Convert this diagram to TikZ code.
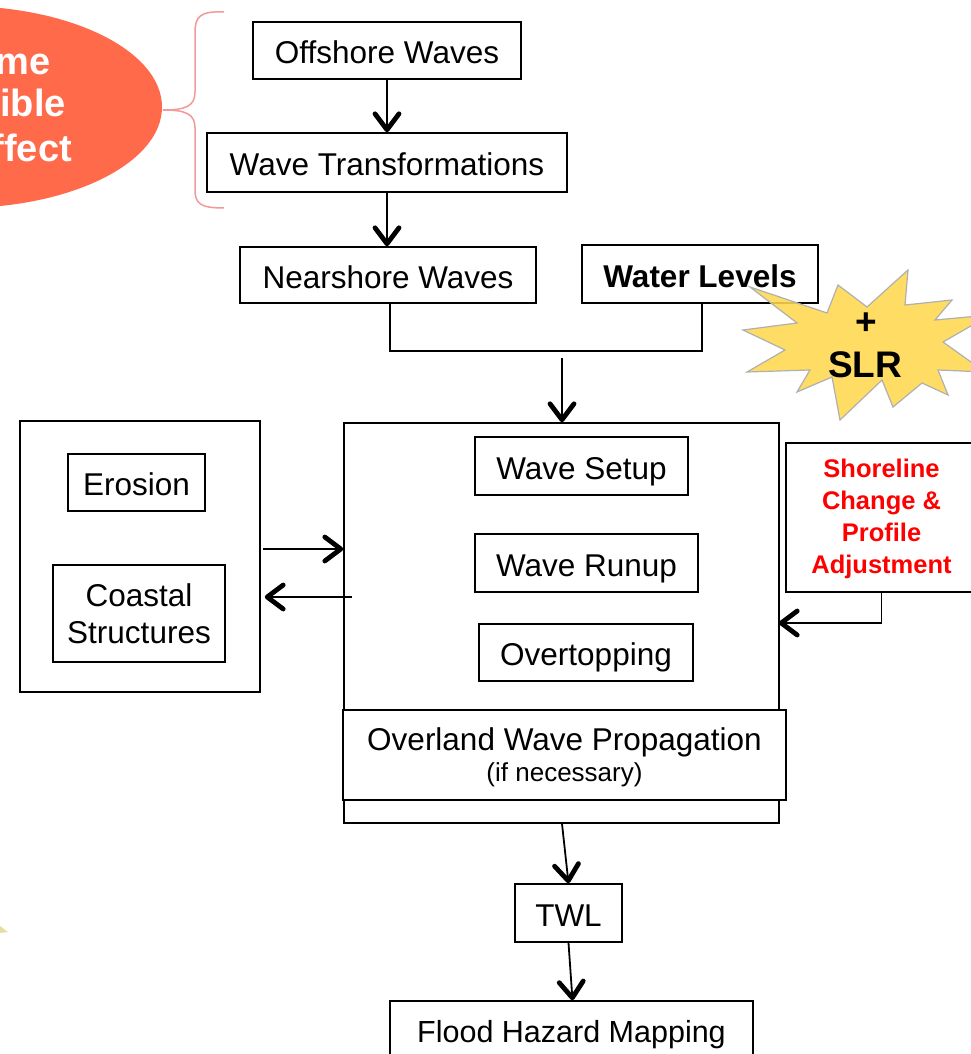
\documentclass[tikz,border=0pt]{standalone}
\usepackage{fontspec}
\setmainfont{Liberation Sans}
\usetikzlibrary{arrows.meta}
\definecolor{ellred}{HTML}{FF6A4B}
\definecolor{bracepink}{HTML}{F29A9A}
\definecolor{staryellow}{HTML}{FFD84F}
\definecolor{stargray}{HTML}{B0B0B0}
\definecolor{faint}{HTML}{E6DDA0}
\begin{document}
\begin{tikzpicture}[x=1pt,y=-1pt,
  box/.style={draw=black, line width=1.6pt, fill=white, inner sep=0pt,
    font=\fontsize{31.5}{37}\selectfont, align=center},
  onel/.style={text height=26pt, text depth=0pt},
  arr/.style={line width=1.8pt, -{Straight Barb[length=16pt,width=24pt,line width=4.8pt,round]}},
  link/.style={line width=1.6pt},
  bigtxt/.style={inner sep=0pt, font=\fontsize{38}{43}\selectfont\bfseries}]
\useasboundingbox (0,0) rectangle (971,1054);
\clip (0,0) rectangle (971,1054);
\fill[white] (0,0) rectangle (971,1054);

% ellipse with clipped text
\fill[ellred] (-40,107) ellipse [x radius=202, y radius=101];
\node[bigtxt, text=white, anchor=base east] (e1) at (51,75) {me};
\node[bigtxt, text=white, anchor=base east] (e2) at (66,117) {ible};
\node[bigtxt, text=white, anchor=base east] (e3) at (72,161) {ffect};

% brace
\draw[bracepink, line width=1.5pt] (224,12) .. controls (201,11) and (195,16) .. (195,32)
  -- (195,92) .. controls (195,106) and (186,110) .. (163,110)
  .. controls (186,110) and (195,114) .. (195,128)
  -- (195,190) .. controls (195,204) and (201,208) .. (224,208);

% faint fragment bottom left
\fill[faint] (0,926) -- (8,932) -- (0,933) -- cycle;

% top chain
\node[box, onel, minimum width=268, minimum height=57] (off) at (387,50.5) {Offshore Waves};
\node[box, onel, minimum width=360, minimum height=59] (wt) at (387,162.5) {Wave Transformations};
\node[box, onel, minimum width=296, minimum height=56] (near) at (388,275) {Nearshore Waves};
\node[box, onel, minimum width=236, minimum height=58, font=\fontsize{31.5}{37}\selectfont\bfseries] (wl) at (700,274) {Water Levels};

\draw[arr] (off.south) -- (off.south |- wt.north);
\draw[arr] (wt.south) -- (wt.south |- near.north);
\draw[link] ([xshift=2pt]near.south) -- ++(0,47) -| ([xshift=2pt]wl.south);

% star
\filldraw[fill=staryellow, fill opacity=0.88, draw=stargray, line width=1.2pt]
  (750,287) -- (827,313) -- (838,285) -- (867,307) -- (908,270) -- (905,305)
  -- (952,300) -- (935,320) -- (990,315) -- (943,342) -- (985,372) -- (938,370)
  -- (948,395) -- (922,383) -- (893,407) -- (882,380) -- (840,420) -- (832,377)
  -- (797,392) -- (810,370) -- (747,372) -- (785,350) -- (743,330) -- (797,323) -- cycle;
\node[bigtxt, font=\fontsize{37}{43}\selectfont\bfseries, anchor=base] (plus) at (866,334) {+};
\node[bigtxt, font=\fontsize{37}{43}\selectfont\bfseries, anchor=base] (slr) at (865,377) {SLR};

% big process box
\node[box, minimum width=435, minimum height=400] (big) at (561.5,623) {};
\coordinate (mrg) at (562,358);
\draw[arr] (mrg) -- (mrg |- big.north);

\node[box, onel, minimum width=213, minimum height=58] (setup) at (581.5,466) {Wave Setup};
\node[box, onel, minimum width=223, minimum height=58] (runup) at (586.5,563) {Wave Runup};
\node[box, onel, minimum width=214, minimum height=57] (overt) at (586,652.5) {Overtopping};
\node[box, minimum width=443, minimum height=90, text depth=-7pt] (ovl) at (564.5,755) {Overland Wave Propagation\\[-6pt]{\fontsize{26}{30}\selectfont (if necessary)}};

% left box
\node[box, minimum width=240, minimum height=271] (left) at (140,556.5) {};
\node[box, onel, minimum width=137, minimum height=57] (eros) at (136.5,482.5) {Erosion};
\node[box, minimum width=172, minimum height=97] (coast) at (139,613.5) {Coastal\\Structures};

\coordinate (ra) at (263,549);
\draw[arr] (ra) -- (ra -| big.west);
\coordinate (la) at (352,597);
\draw[arr, shorten >=4pt] (la) -- (la -| left.east);

% shoreline box
\node[box, minimum width=191, minimum height=149, text=red, text depth=1.5pt,
  font=\fontsize{25.5}{32}\selectfont\bfseries] (shore) at (881.5,517.5) {Shoreline\\Change \&\\Profile\\Adjustment};
\draw[arr, shorten >=-1pt] (shore.south) |- (big.east |- 0,623);

% bottom chain
\node[box, onel, minimum width=107, minimum height=58] (twl) at (568.5,913) {TWL};
\node[box, text height=22.5pt, text depth=10pt, minimum width=363, minimum height=70,
  font=\fontsize{30.5}{37}\selectfont] (flood) at (571.5,1036) {Flood Hazard Mapping};
\draw[arr] ([xshift=0.5pt]big.south) -- (twl.north);
\draw[arr] (twl.south) -- ([xshift=1pt]flood.north);
\end{tikzpicture}
\end{document}
